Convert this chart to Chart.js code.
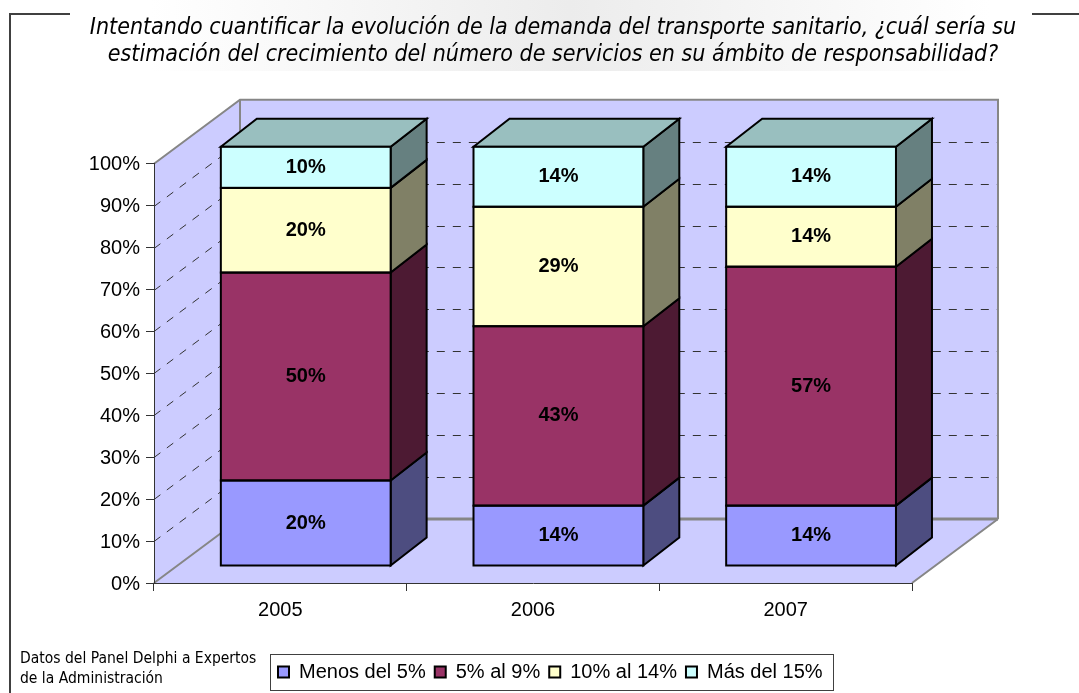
<!DOCTYPE html>
<html>
<head>
<meta charset="utf-8">
<title>Transporte sanitario</title>
<script src="https://cdn.jsdelivr.net/npm/chart.js@4/dist/chart.umd.js"></script>
<style>
  html, body { margin: 0; padding: 0; background: #fff; overflow: hidden; }
  canvas { display: block; }
</style>
</head>
<body>
<canvas id="chart" width="1079" height="693"></canvas>
<script>
"use strict";
const categories = ["2005", "2006", "2007"];
const menos5 = [20.4, 14.4, 14.4];
const de5a9 = [49.6, 42.8, 57];
const de10a14 = [20.2, 28.5, 14.3];
const mas15 = [9.8, 14.3, 14.3];
const seriesNames = ["Menos del 5%", "5% al 9%", "10% al 14%", "Más del 15%"];
const titleLines = [
  "Intentando cuantificar la evolución de la demanda del transporte sanitario, ¿cuál sería su",
  "estimación del crecimiento del número de servicios en su ámbito de responsabilidad?"
];
const noteLines = ["Datos del Panel Delphi a Expertos", "de la Administración"];

const frontColors = ["#9999ff", "#993366", "#ffffcc", "#ccffff"];
const sideColors = ["#4d4d80", "#4d1a33", "#808066", "#668080"];
const topColor = "#99bfbf";

// 3d offsets: depth of the floor and of the bars, push of the bars off the axis
const wallDx = 86, wallDy = -64;
const barDepthX = 36, barDepthY = -28;
const barShiftX = 25.4, barShiftY = -17;

function poly(ctx, pts, fill, stroke, width) {
  ctx.beginPath();
  pts.forEach((p, i) => i ? ctx.lineTo(p[0], p[1]) : ctx.moveTo(p[0], p[1]));
  ctx.closePath();
  if (fill) { ctx.fillStyle = fill; ctx.fill(); }
  if (stroke) { ctx.strokeStyle = stroke; ctx.lineWidth = width; ctx.stroke(); }
}

const scene = {
  id: "scene",
  afterLayout(chart) {
    // title and legend sit where the reference has them, not where the chart area is
    chart.titleBlock.left = 22;
    chart.titleBlock.right = 1084;
    chart.legend.left = 269;
    chart.legend.right = 832;
    chart.legend.top = 653;
  },
  beforeDraw(chart) {
    const ctx = chart.ctx;
    const a = chart.chartArea;
    const y = chart.scales.y;
    ctx.save();

    const grad = ctx.createLinearGradient(150, 0, 990, 0);
    grad.addColorStop(0, "#ffffff");
    grad.addColorStop(0.5, "#ececec");
    grad.addColorStop(1, "#ffffff");
    ctx.fillStyle = grad;
    ctx.fillRect(150, 0, 840, 71);

    // outer frame with the gap for the title
    ctx.strokeStyle = "#404040";
    ctx.lineWidth = 2;
    ctx.beginPath();
    ctx.moveTo(70, 14); ctx.lineTo(10, 14); ctx.lineTo(10, 693);
    ctx.moveTo(1032, 14); ctx.lineTo(1079, 14);
    ctx.stroke();

    const bl = [a.left, a.bottom], tl = [a.left, a.top];
    const br = [a.right, a.bottom];
    const bl2 = [a.left + wallDx, a.bottom + wallDy], tl2 = [a.left + wallDx, a.top + wallDy];
    const br2 = [a.right + wallDx, a.bottom + wallDy], tr2 = [a.right + wallDx, a.top + wallDy];
    poly(ctx, [bl, tl, tl2, bl2], "#ccccff");
    poly(ctx, [bl2, tl2, tr2, br2], "#ccccff");
    poly(ctx, [bl, br, br2, bl2], "#ccccff");

    // dashed grid across the side wall and the back wall
    ctx.strokeStyle = "#333333";
    ctx.lineWidth = 1;
    ctx.setLineDash([8, 8]);
    y.ticks.forEach(t => {
      if (t.value === 0 || t.value === 100) return;
      const py = Math.round(y.getPixelForValue(t.value)) + 0.5;
      ctx.beginPath();
      ctx.moveTo(a.left, py);
      ctx.lineTo(a.left + wallDx, py + wallDy);
      ctx.lineTo(a.right + wallDx, py + wallDy);
      ctx.stroke();
    });
    ctx.setLineDash([]);

    ctx.strokeStyle = "#868686";
    ctx.lineWidth = 2;
    ctx.beginPath();
    ctx.moveTo(bl[0], bl[1]); ctx.lineTo(bl2[0], bl2[1]);
    ctx.moveTo(br2[0], br2[1]); ctx.lineTo(br[0], br[1]);
    ctx.moveTo(tl[0], tl[1]); ctx.lineTo(tl2[0], tl2[1]); ctx.lineTo(tr2[0], tr2[1]); ctx.lineTo(br2[0], br2[1]);
    ctx.moveTo(tl2[0], tl2[1]); ctx.lineTo(bl2[0], bl2[1]);
    ctx.stroke();
    ctx.lineWidth = 3;
    ctx.beginPath();
    ctx.moveTo(bl2[0], bl2[1]); ctx.lineTo(br2[0], br2[1]);
    ctx.stroke();

    // legend frame and the note next to it
    ctx.strokeStyle = "#404040";
    ctx.lineWidth = 1;
    ctx.strokeRect(270.5, 654.5, 563, 36);
    ctx.fillStyle = "#000";
    ctx.font = "15.5px 'DejaVu Sans Condensed', 'DejaVu Sans'";
    ctx.textAlign = "left";
    ctx.textBaseline = "alphabetic";
    noteLines.forEach((l, i) => ctx.fillText(l, 20, 663 + i * 20));
    ctx.restore();
  },
  beforeDatasetsDraw(chart) {
    const ctx = chart.ctx;
    ctx.save();
    ctx.translate(barShiftX, barShiftY);
    chart.data.datasets.forEach((ds, d) => {
      chart.getDatasetMeta(d).data.forEach(bar => {
        const r = bar.x + bar.width / 2;
        const l = bar.x - bar.width / 2;
        poly(ctx, [[r, bar.y], [r + barDepthX, bar.y + barDepthY], [r + barDepthX, bar.base + barDepthY], [r, bar.base]],
          sideColors[d], "#000", 2);
        if (d === chart.data.datasets.length - 1) {
          poly(ctx, [[l, bar.y], [l + barDepthX, bar.y + barDepthY], [r + barDepthX, bar.y + barDepthY], [r, bar.y]],
            topColor, "#000", 2);
        }
      });
    });
  },
  afterDatasetsDraw(chart) {
    const ctx = chart.ctx;
    ctx.fillStyle = "#000";
    ctx.font = "bold 20px 'Liberation Sans'";
    ctx.textAlign = "center";
    ctx.textBaseline = "middle";
    chart.data.datasets.forEach((ds, d) => {
      chart.getDatasetMeta(d).data.forEach((bar, i) => {
        // outline here so every segment edge gets the same weight
        ctx.strokeStyle = "#000";
        ctx.lineWidth = 2;
        ctx.strokeRect(bar.x - bar.width / 2, bar.y, bar.width, bar.base - bar.y);
        ctx.fillText(Math.round(ds.data[i]) + "%", bar.x, (bar.y + bar.base) / 2);
      });
    });
    ctx.restore();
  }
};

const seriesValues = [menos5, de5a9, de10a14, mas15];

new Chart(document.getElementById("chart"), {
  type: "bar",
  data: {
    labels: categories,
    datasets: seriesValues.map((vals, i) => ({
      label: seriesNames[i],
      data: vals,
      backgroundColor: frontColors[i],
      borderWidth: 0,
      inflateAmount: 0,
      clip: false,
      categoryPercentage: 1,
      barPercentage: 0.672
    }))
  },
  options: {
    responsive: false,
    animation: false,
    layout: { padding: { left: 0, right: 167, top: 0, bottom: 0 } },
    plugins: {
      tooltip: { enabled: false },
      title: {
        display: true,
        text: titleLines,
        color: "#000",
        font: { family: "'DejaVu Sans Condensed', 'DejaVu Sans'", size: 23, style: "italic", weight: "normal", lineHeight: 1.17 },
        padding: { top: 15, bottom: 95 }
      },
      legend: {
        position: "bottom",
        align: "start",
        labels: {
          color: "#000",
          font: { family: "'Liberation Sans'", size: 20 },
          boxWidth: 11,
          boxHeight: 11,
          padding: 9,
          generateLabels(chart) {
            return chart.data.datasets.map((ds, i) => ({
              text: ds.label,
              fillStyle: frontColors[i],
              strokeStyle: "#000",
              lineWidth: 2,
              fontColor: "#000",
              datasetIndex: i
            }));
          }
        }
      }
    },
    scales: {
      x: {
        stacked: true,
        offset: true,
        afterFit(scale) { scale.height = 71; },
        grid: { offset: true, drawOnChartArea: false, color: "#333", tickLength: 8 },
        border: { color: "#333", width: 1 },
        ticks: { color: "#000", font: { family: "'Liberation Sans'", size: 20 }, padding: 7, maxRotation: 0 }
      },
      y: {
        stacked: true,
        min: 0,
        max: 100,
        afterFit(scale) { scale.width = 154; },
        grid: { drawOnChartArea: false, color: "#333", tickLength: 8 },
        border: { color: "#333", width: 1 },
        ticks: { stepSize: 10, color: "#000", font: { family: "'Liberation Sans'", size: 20 }, padding: 6, labelOffset: 1, callback: v => v + "%" }
      }
    }
  },
  plugins: [scene]
});
</script>
</body>
</html>
